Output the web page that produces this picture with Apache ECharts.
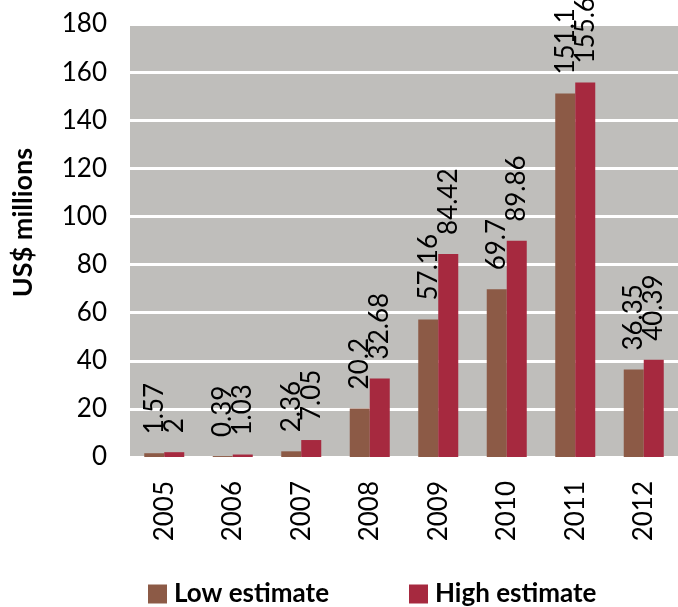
<!DOCTYPE html>
<html>
<head>
<meta charset="utf-8">
<script src="https://cdn.jsdelivr.net/npm/echarts@6/dist/echarts.min.js"></script>
<style>html,body{margin:0;padding:0;background:#fff;}#c{width:678px;height:607px;}</style>
</head>
<body>
<div id="c"></div>
<script>
const years = ['2005','2006','2007','2008','2009','2010','2011','2012'];
const lowEstimate = [1.57, 0.39, 2.36, 20.2, 57.16, 69.7, 151.1, 36.35];
const highEstimate = [2, 1.03, 7.05, 32.68, 84.42, 89.86, 155.67, 40.39];
const seriesNames = ['Low estimate', 'High estimate'];
const yAxisTitle = 'US$ millions';

const FONT = 'Lato, "Open Sans", sans-serif';
const chart = echarts.init(document.getElementById('c'), null, {renderer: 'canvas'});
const labelCfg = {
  show: true, position: 'top', rotate: 90, align: 'left', verticalAlign: 'middle',
  distance: 19, color: '#000', fontFamily: FONT, fontSize: 26
};
chart.setOption({
  animation: false,
  textStyle: {fontFamily: FONT},
  grid: {left: 130, right: 0, top: 24, bottom: 150, show: true, backgroundColor: '#bfbebb', borderWidth: 0},
  legend: {
    left: 143, top: 576, itemWidth: 19, itemHeight: 19, itemGap: 80,
    icon: 'rect',
    textStyle: {fontFamily: FONT, fontSize: 26, fontWeight: 'bold', color: '#000', padding: [0, 0, 0, 2]},
    data: seriesNames
  },
  xAxis: {
    type: 'category', data: years,
    axisLine: {show: false}, axisTick: {show: false},
    axisLabel: {rotate: 90, margin: 24, color: '#000', fontFamily: FONT, fontSize: 26}
  },
  yAxis: {
    type: 'value', min: 0, max: 180, interval: 20,
    name: yAxisTitle, nameLocation: 'middle', nameGap: 93, nameRotate: 90,
    nameTextStyle: {fontFamily: FONT, fontSize: 27, fontWeight: 'bold', color: '#000', padding: [0, 0, 0, 36]},
    axisLine: {show: false}, axisTick: {show: false},
    axisLabel: {margin: 23, color: '#000', fontFamily: FONT, fontSize: 26},
    splitLine: {lineStyle: {color: '#ffffff', width: 3}}
  },
  series: [
    {name: seriesNames[0], type: 'bar', data: lowEstimate, barWidth: 20, barGap: '0%',
     itemStyle: {color: '#8c5a46'}, label: labelCfg},
    {name: seriesNames[1], type: 'bar', data: highEstimate, barWidth: 20, barGap: '0%',
     itemStyle: {color: '#a6293f'}, label: labelCfg}
  ]
});
</script>
</body>
</html>
